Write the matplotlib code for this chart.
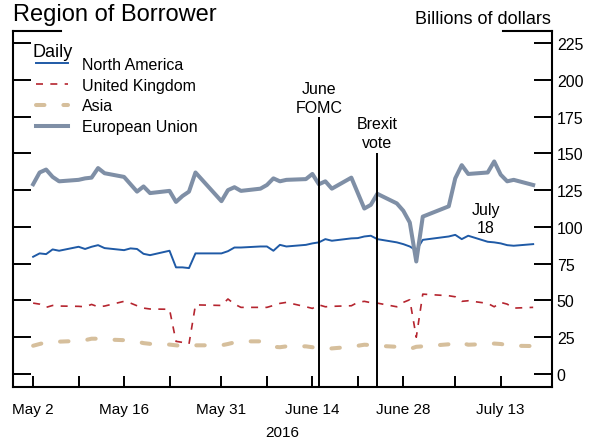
import numpy as np
import pandas as pd
import matplotlib
matplotlib.use('Agg')
import matplotlib.pyplot as plt
from matplotlib.lines import Line2D

plt.rcParams['font.family'] = ['Liberation Sans', 'DejaVu Sans']

# business days, May 2 - July 18 2016 (Memorial Day and July 4 skipped)
dates = pd.bdate_range('2016-05-02', '2016-07-18', freq='C',
                       holidays=['2016-05-30', '2016-07-04'])

north_america = [79.7, 82, 81.5, 84.7, 83.8, 86.5, 85, 86.5, 87.6, 85.6,
                 84.2, 85.4, 85, 81.7, 80.8, 83.8, 72.5, 72.5, 72, 82,
                 82, 83.5, 86, 86, 86.7, 86.7, 83.8, 87.8, 86.7, 87.8,
                 88.8, 89.5, 91.7, 90.6, 92.2, 92.4, 93.5, 94, 91.7, 89.5,
                 88.3, 86.7, 84, 91.2, 93.5, 94.6, 91.7, 94, 89.9, 89.5,
                 88.8, 87.6, 87.2, 88.3]
united_kingdom = [48.2, 47.5, 45.3, 46.6, 46.2, 46, 45.7, 47.3, 45.7, 46.2,
                  49.4, 48.2, 46.4, 44.8, 44.2, 44, 22.2, 21.5, 20.4, 47,
                  46.6, 51, 47.5, 45.3, 45.3, 45.3, 46.6, 48, 48.7, 45.7,
                  44.6, 47, 45.7, 46, 46.4, 48.7, 49.4, 48.5, 48.2, 45.7,
                  48.7, 50.5, 25, 54.3, 53.2, 52.5, 49.4, 49.8, 48, 45.7,
                  48.7, 47.5, 44.8, 45.3]
asia = [19.2, 20.4, 21.5, 22, 22, 22.5, 23, 24, 24, 23.5,
        23, 22.5, 22, 21, 20.5, 20, 19.5, 19, 19, 19.5,
        19.5, 20.4, 21.5, 22.2, 22.2, 20.4, 18.5, 18.2, 18.8, 18.8,
        18.2, 17.4, 17, 17.4, 18.5, 19.2, 19.9, 19.7, 19.2, 18.5,
        18.2, 17, 18.5, 18.8, 20.2, 22, 21.1, 19.9, 20.4, 20.7,
        20.4, 19.7, 19.2, 19]
european_union = [129, 137, 139, 134, 131, 132, 133, 133.5, 140, 136.5,
                  134, 129, 124, 127.5, 123, 124.5, 117, 121, 124, 137,
                  117.5, 125, 127, 124.5, 126, 128.5, 133, 131, 132, 132.5,
                  136, 129, 131, 126, 133.5, 123, 112.5, 115, 122.5, 116,
                  111, 103, 76.5, 107, 114, 133, 142, 136, 137, 144.5,
                  135.5, 131, 132, 128.5]

tick_dates = pd.to_datetime(['2016-05-02', '2016-05-09', '2016-05-16', '2016-05-23',
                             '2016-05-31', '2016-06-07', '2016-06-14', '2016-06-21',
                             '2016-06-28', '2016-07-06', '2016-07-13'])
tick_labels = ['May 2', '', 'May 16', '', 'May 31', '', 'June 14', '', 'June 28', '', 'July 13']
y_ticks = list(range(0, 226, 25))

fomc_date = pd.Timestamp('2016-06-15')
brexit_date = pd.Timestamp('2016-06-24')

fig = plt.figure(figsize=(5.9, 4.39), dpi=100)
ax = fig.add_axes([13 / 590, 1 - 388 / 439, 539 / 590, 356 / 439])

ax.plot(dates, north_america, color='#1f5aa6', lw=1.4, label='North America')
ax.plot(dates, united_kingdom, color='#b5252f', lw=1.2, linestyle=(0, (4.2, 4.4)),
        label='United Kingdom')
ax.plot(dates, asia, color='#d6bf9c', lw=2.9, linestyle=(0, (2.1, 4.7)),
        dash_capstyle='round', label='Asia')
ax.plot(dates, european_union, color='#7f8fa6', lw=2.9, label='European Union')

ax.set_ylim(-8.84, 233.2)
ax.set_xlim(dates[0] - pd.Timedelta(days=3.1), dates[-1] + pd.Timedelta(days=2.9))

# event lines (text y = baseline of last line)
ax.vlines(fomc_date, -8.84, 175, color='black', lw=1.4)
ax.vlines(brexit_date, -8.84, 150, color='black', lw=1.4)
ax.text(fomc_date, 178.3, 'June\nFOMC', ha='center', va='baseline', fontsize=11.5, linespacing=1.3)
ax.text(brexit_date, 154.3, 'Brexit\nvote', ha='center', va='baseline', fontsize=11.5, linespacing=1.3)
ax.text(pd.Timestamp('2016-07-10 18:00'), 96.3, 'July\n18', ha='center', va='baseline',
        fontsize=11.5, linespacing=1.3)

# axes styling
for side in ['left', 'right', 'bottom']:
    ax.spines[side].set_linewidth(1.5)
ax.spines['top'].set_visible(False)
ax.add_line(Line2D([0, 0.089], [1, 1], transform=ax.transAxes, color='black', lw=1.5, clip_on=False))
ax.add_line(Line2D([0.909, 1], [1, 1], transform=ax.transAxes, color='black', lw=1.5, clip_on=False))

ax.set_yticks(y_ticks)
ax.tick_params(axis='y', direction='in', left=True, right=True, labelleft=False,
               labelright=True, length=13, width=1.4, labelsize=11.5, pad=3.5)
ax.set_xticks(tick_dates)
ax.set_xticklabels(tick_labels)
ax.tick_params(axis='x', direction='in', length=8, width=1.4, labelsize=11, pad=11)

# legend, with its "Daily" heading as plain text just above
ax.text(0.037, 0.9298, 'Daily', transform=ax.transAxes, fontsize=13, va='baseline', ha='left')
leg = ax.legend(loc='upper left', bbox_to_anchor=(0.0427, 0.927),
                frameon=False, fontsize=11.5,
                handlelength=2.0, handletextpad=0.9, labelspacing=0.36,
                borderpad=0, borderaxespad=0)

fig.text(0.022, 1 - 21 / 439, 'Region of Borrower', fontsize=17, va='baseline', ha='left')
fig.text(551 / 590, 1 - 24 / 439, 'Billions of dollars', fontsize=13, va='baseline', ha='right')
fig.text(282 / 590, 2 / 439, '2016', fontsize=11, ha='center', va='baseline')

fig.savefig('out.png', dpi=100)
